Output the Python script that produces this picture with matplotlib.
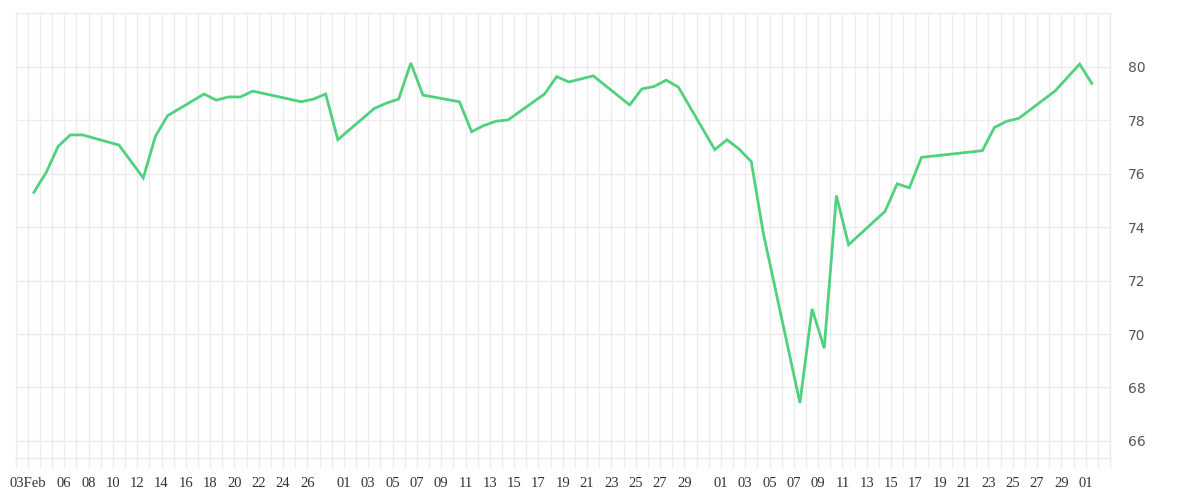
import pandas as pd
import matplotlib.pyplot as plt
import matplotlib.dates as mdates

# daily values
dates = [
    '2025-02-03', '2025-02-04', '2025-02-05', '2025-02-06', '2025-02-07',
    '2025-02-10', '2025-02-12', '2025-02-13', '2025-02-14', '2025-02-17',
    '2025-02-18', '2025-02-19', '2025-02-20', '2025-02-21', '2025-02-25',
    '2025-02-26', '2025-02-27', '2025-02-28', '2025-03-03', '2025-03-04',
    '2025-03-05', '2025-03-06', '2025-03-07', '2025-03-10', '2025-03-11',
    '2025-03-12', '2025-03-13', '2025-03-14', '2025-03-17', '2025-03-18',
    '2025-03-19', '2025-03-21', '2025-03-24', '2025-03-25', '2025-03-26',
    '2025-03-27', '2025-03-28', '2025-03-31', '2025-04-01', '2025-04-02',
    '2025-04-03', '2025-04-04', '2025-04-07', '2025-04-08', '2025-04-09',
    '2025-04-10', '2025-04-11', '2025-04-14', '2025-04-15', '2025-04-16',
    '2025-04-17', '2025-04-22', '2025-04-23', '2025-04-24', '2025-04-25',
    '2025-04-28', '2025-04-30', '2025-05-01',
]
values = [
    75.30, 76.03, 77.02, 77.45, 77.45,
    77.07, 75.84, 77.40, 78.17, 78.98,
    78.75, 78.87, 78.87, 79.09, 78.69,
    78.79, 78.98, 77.27, 78.44, 78.64,
    78.79, 80.14, 78.94, 78.69, 77.57,
    77.80, 77.96, 78.01, 78.98, 79.63,
    79.43, 79.66, 78.57, 79.17, 79.26,
    79.50, 79.24, 76.90, 77.27, 76.92,
    76.45, 73.75, 67.42, 70.94, 69.47,
    75.18, 73.34, 74.59, 75.62, 75.47,
    76.61, 76.86, 77.73, 77.96, 78.07,
    79.10, 80.10, 79.38,
]

tick_dates = (
    ['2025-02-03'] + ['2025-02-%02d' % d for d in range(6, 27, 2)]
    + ['2025-03-%02d' % d for d in range(1, 30, 2)]
    + ['2025-04-%02d' % d for d in range(1, 30, 2)]
    + ['2025-05-01']
)
tick_labels = ['03Feb'] + [d[-2:] for d in tick_dates[1:]]
y_ticks = [66, 68, 70, 72, 74, 76, 78, 80]

grid_col = '#ececec'
line_col = '#4fd17e'

x = pd.to_datetime(dates) + pd.Timedelta(hours=12)

fig = plt.figure(figsize=(12, 5), dpi=100)
ax = fig.add_axes([0.013, 0.0834, 0.912, 0.89])

ax.plot(x, values, color=line_col, linewidth=2, solid_joinstyle='miter')

ax.set_xlim(pd.Timestamp('2025-02-02'), pd.Timestamp('2025-05-03'))
ax.set_ylim(65.35, 82)

ax.xaxis.set_minor_locator(mdates.DayLocator())
ax.set_xticks(pd.to_datetime(tick_dates))
ax.set_xticklabels(tick_labels, fontfamily='Liberation Serif', fontsize=10.5, color='#333333')
ax.tick_params(axis='x', which='both', length=7.5, color=grid_col, width=1, pad=6)

ax.yaxis.tick_right()
ax.set_yticks(y_ticks + [82])
ax.set_yticklabels([str(v) for v in y_ticks] + [''], fontsize=10, color='#555555')
ax.tick_params(axis='y', length=0, pad=13)

ax.grid(True, which='both', axis='x', color=grid_col, linewidth=1)
ax.grid(True, which='major', axis='y', color=grid_col, linewidth=1)
ax.set_axisbelow(True)
for s in ax.spines.values():
    s.set_color(grid_col)
    s.set_linewidth(1)

fig.savefig('out.png', dpi=100)
